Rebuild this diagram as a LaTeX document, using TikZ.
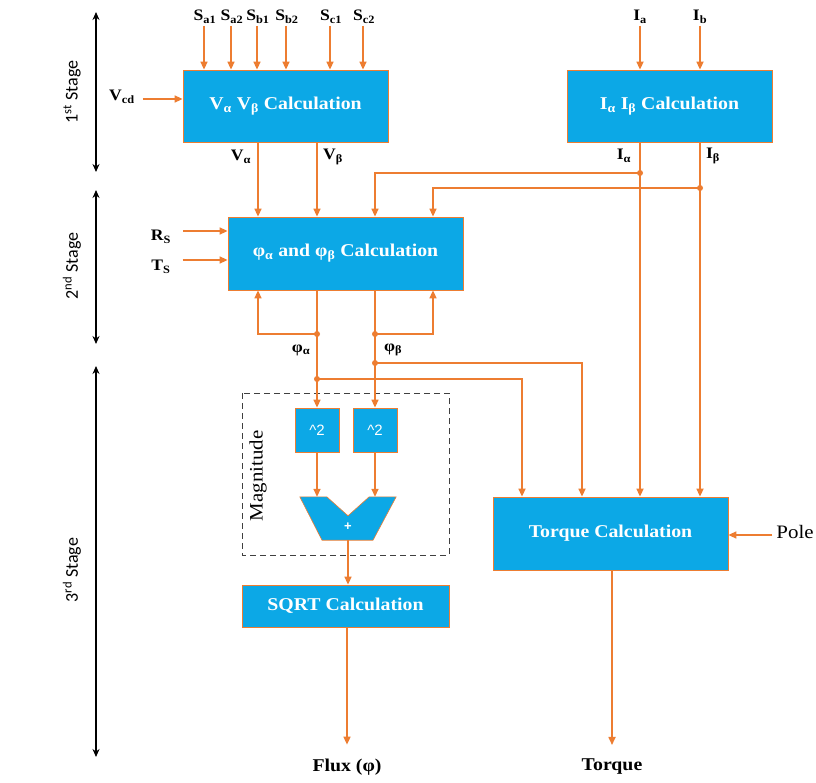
\documentclass[tikz,border=0pt]{standalone}
\usepackage{fontspec}
\setmainfont{Liberation Serif}[FakeStretch=1.1]
\newfontfamily\stagefont{Carlito}
\newfontfamily\caretfont{Liberation Sans}
\usetikzlibrary{arrows.meta}
\definecolor{calcblue}{RGB}{12,168,230}
\definecolor{wireorange}{RGB}{237,125,49}
\tikzset{
	calcbox/.style={draw=wireorange, line width=0.8pt, fill=calcblue, text=white, inner sep=0pt,
		font=\fontsize{18}{20}\selectfont\bfseries},
	sigtext/.style={font=\fontsize{16}{18}\selectfont\bfseries, inner sep=0pt},
	outtext/.style={font=\fontsize{18}{20}\selectfont\bfseries, inner sep=0pt},
	wire/.style={draw=wireorange, line width=1.6pt, -{Triangle[length=8pt,width=7pt]}},
	junction/.style={circle, fill=wireorange, inner sep=0pt, minimum size=6pt},
	stagearrow/.style={line width=1.6pt, {Stealth[length=8pt,width=7pt]}-{Stealth[length=8pt,width=7pt]}},
	stagetext/.style={rotate=90, font=\stagefont\fontsize{18}{20}\selectfont}
}
\begin{document}
\begin{tikzpicture}[x=1pt,y=-1pt]
	\useasboundingbox[fill=white] (0,0) rectangle (816,783);

	% columns used by the wiring
	\coordinate (colA) at (258,0);
	\coordinate (colB) at (317,0);
	\coordinate (colC) at (375,0);
	\coordinate (colD) at (433,0);
	\coordinate (colE) at (522,0);
	\coordinate (colF) at (582,0);
	\coordinate (colG) at (640,0);
	\coordinate (colH) at (700,0);

	% stages
	\coordinate (st1a) at (96,12);  \coordinate (st1b) at (96,172);
	\coordinate (st2a) at (96,190); \coordinate (st2b) at (96,344);
	\coordinate (st3a) at (96,366); \coordinate (st3b) at (96,757);
	\draw[stagearrow] (st1a) -- (st1b);
	\draw[stagearrow] (st2a) -- (st2b);
	\draw[stagearrow] (st3a) -- (st3b);
	\node[stagetext] (lab1) at (72,92) {1\textsuperscript{st} Stage};
	\node[stagetext] (lab2) at (72,266) {2\textsuperscript{nd} Stage};
	\node[stagetext] (lab3) at (72,570) {3\textsuperscript{rd} Stage};

	% calculation blocks
	\node[calcbox, minimum width=205pt, minimum height=72pt] (vcalc) at (285.5,106)
		{V\textsubscript{α} V\textsubscript{β} Calculation};
	\node[calcbox, minimum width=205pt, minimum height=72pt] (icalc) at (669.5,106)
		{I\textsubscript{α} I\textsubscript{β} Calculation};
	\node[calcbox, minimum width=235pt, minimum height=73pt] (phicalc) at (345.5,253.5)
		{φ\textsubscript{α} and φ\textsubscript{β} Calculation};
	\node[calcbox, minimum width=44pt, minimum height=44pt, font=\caretfont\fontsize{15}{16}\selectfont] (sq1) at (317,430) {\textasciicircum 2};
	\node[calcbox, minimum width=44pt, minimum height=44pt, font=\caretfont\fontsize{15}{16}\selectfont] (sq2) at (375,430) {\textasciicircum 2};
	\node[minimum width=96pt, minimum height=43pt, inner sep=0pt] (adder) at (348,518.5) {};
	\node[calcbox, minimum width=207pt, minimum height=42pt] (sqrt) at (345.5,606) {SQRT Calculation};
	\node[calcbox, minimum width=235pt, minimum height=73pt] (tcalc) at (610.5,533.5) {Torque Calculation};

	% adder
	\draw[draw=wireorange, line width=0.6pt, fill=calcblue] (adder.north west) -- ([xshift=27]adder.north west)
		-- ([yshift=-19]adder.north) -- ([xshift=-27]adder.north east) -- (adder.north east)
		-- ([xshift=25]adder.south) -- ([xshift=-26]adder.south) -- cycle;
	\node[text=white, font=\caretfont\fontsize{13}{14}\selectfont\bfseries] (plus) at (348,527) {+};

	% magnitude frame
	\draw[line width=1pt, black!75, dash pattern=on 6pt off 4pt] (242,393) rectangle (449,555);
	\node[rotate=90, font=\fontsize{19}{20}\selectfont] (mag) at (258,476) {Magnitude};

	% inputs
	\node[sigtext] (sa1) at (205,17) {S\textsubscript{a1}};
	\node[sigtext] (sa2) at (232,17) {S\textsubscript{a2}};
	\node[sigtext] (sb1) at (258,17) {S\textsubscript{b1}};
	\node[sigtext] (sb2) at (287,17) {S\textsubscript{b2}};
	\node[sigtext] (sc1) at (331,17) {S\textsubscript{c1}};
	\node[sigtext] (sc2) at (364,17) {S\textsubscript{c2}};
	\coordinate (xsa1) at (204,26); \coordinate (xsa2) at (231,26); \coordinate (xsb1) at (257,26);
	\coordinate (xsb2) at (286,26); \coordinate (xsc1) at (330,26); \coordinate (xsc2) at (363,26);
	\foreach \s in {xsa1,xsa2,xsb1,xsb2,xsc1,xsc2}
		\draw[wire] (\s) -- (\s |- vcalc.north);
	\node[sigtext] (ia) at (640,17) {I\textsubscript{a}};
	\node[sigtext] (ib) at (700,17) {I\textsubscript{b}};
	\draw[wire] ([yshift=-9]ia.center) -- (ia.center |- icalc.north);
	\draw[wire] ([yshift=-9]ib.center) -- (ib.center |- icalc.north);
	\node[sigtext] (vcd) at (122,97) {V\textsubscript{cd}};
	\draw[wire] ([xshift=8,yshift=-2]vcd.east) -- ([yshift=-2]vcd.east -| vcalc.west);
	\node[sigtext] (rs) at (161,237) {R\textsubscript{S}};
	\node[sigtext] (ts) at (161,267) {T\textsubscript{S}};
	\draw[wire] ([xshift=12,yshift=6]rs.east) -- ([yshift=6]rs.east -| phicalc.west);
	\draw[wire] ([xshift=12,yshift=7]ts.east) -- ([yshift=7]ts.east -| phicalc.west);
	\node[font=\fontsize{19}{20}\selectfont, inner sep=0pt] (pole) at (795,532) {Pole};
	\draw[wire] ([xshift=-4,yshift=-3]pole.west) -- ([yshift=-3]pole.west -| tcalc.east);

	% signal names on the wires
	\node[sigtext] (lva) at (241,157) {V\textsubscript{α}};
	\node[sigtext] (lvb) at (333,157) {V\textsubscript{β}};
	\node[sigtext] (lia) at (624,156) {I\textsubscript{α}};
	\node[sigtext] (lib) at (713,156) {I\textsubscript{β}};
	\node[sigtext] (lpa) at (301,350) {φ\textsubscript{α}};
	\node[sigtext] (lpb) at (393,350) {φ\textsubscript{β}};

	% stage 1 -> stage 2
	\draw[wire] (vcalc.south -| colA) -- (phicalc.north -| colA);
	\draw[wire] (vcalc.south -| colB) -- (phicalc.north -| colB);
	\coordinate (jia) at (640,173);
	\coordinate (jib) at (700,188);
	\draw[wire] (icalc.south -| colG) -- (tcalc.north -| colG);
	\draw[wire] (icalc.south -| colH) -- (tcalc.north -| colH);
	\draw[wire] (jia) -| (phicalc.north -| colC);
	\draw[wire] (jib) -| (phicalc.north -| colD);

	% stage 2 -> stage 3
	\coordinate (jpa1) at (317,334);
	\coordinate (jpa2) at (317,379);
	\coordinate (jpb1) at (375,334);
	\coordinate (jpb2) at (375,363);
	\draw[wire] (phicalc.south -| colB) -- (sq1.north);
	\draw[wire] (phicalc.south -| colC) -- (sq2.north);
	\draw[wire] (jpa1) -| (phicalc.south -| colA);
	\draw[wire] (jpb1) -| (phicalc.south -| colD);
	\draw[wire] (jpa2) -| (tcalc.north -| colE);
	\draw[wire] (jpb2) -| (tcalc.north -| colF);
	\foreach \j in {jia,jib,jpa1,jpa2,jpb1,jpb2}
		\node[junction] at (\j) {};

	% magnitude and outputs
	\draw[wire] (sq1.south) -- (sq1.south |- adder.north);
	\draw[wire] (sq2.south) -- (sq2.south |- adder.north);
	\draw[wire] (adder.south) -- (adder.south |- sqrt.north);
	\node[outtext] (flux) at (347,767) {Flux (φ)};
	\node[outtext] (torque) at (612,767) {Torque};
	\draw[wire] (sqrt.south -| flux) -- ([yshift=14]flux.north);
	\draw[wire] (tcalc.south -| torque) -- ([yshift=14]torque.north);
\end{tikzpicture}
\end{document}
